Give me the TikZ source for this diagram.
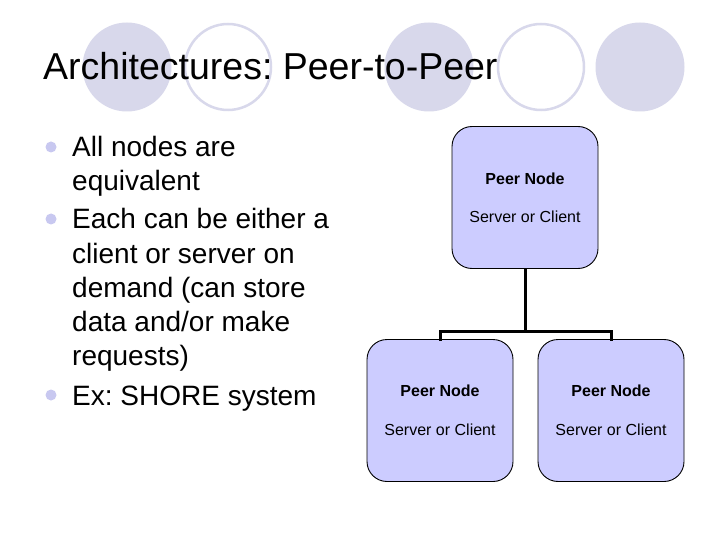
\documentclass[tikz,border=0pt]{standalone}
\usepackage{fontspec}
\setmainfont{Liberation Sans}
\frenchspacing
\definecolor{deco}{RGB}{216,216,235}
\definecolor{bul}{RGB}{200,200,240}
\definecolor{nodefill}{RGB}{204,204,255}
\begin{document}
\begin{tikzpicture}[x=1pt,y=-1pt,
  decoring/.style={draw=deco,line width=2.5pt,fill=white},
  bulletdot/.style={circle,fill=bul,inner sep=0pt,minimum size=11pt},
  line/.style={anchor=base west,inner sep=0pt,font=\fontsize{28}{34}\selectfont},
  peer/.style={draw=black,line width=0.9pt,fill=nodefill,rounded corners=20pt,
    minimum width=146pt,minimum height=142pt,inner sep=0pt},
  ptitle/.style={font=\bfseries\fontsize{16}{19}\selectfont,inner sep=0pt},
  psub/.style={font=\fontsize{16}{19}\selectfont,inner sep=0pt},
  conn/.style={line width=3pt}]
\useasboundingbox (0,0) rectangle (720,540);
\fill[white] (0,0) rectangle (720,540);
% decorative circles
\fill[deco] (127,67) circle (44.5);
\draw[decoring] (228,67) circle (43);
\fill[deco] (429,67) circle (44.5);
\draw[decoring] (541,67) circle (43);
\fill[deco] (640,67) circle (44.5);
% title
\node[anchor=base west,inner sep=0pt,font=\fontsize{37.5}{44}\selectfont] (title) at (43,80) {Architectures: Peer-to-Peer};
% bullets
\node[bulletdot] (b1) at (51,147) {};
\node[bulletdot] (b2) at (51,219) {};
\node[bulletdot] (b3) at (51,395) {};
\node[line] (l1) at (72,157) {All nodes are};
\node[line] (l2) at (72,191) {equivalent};
\node[line] (l3) at (72,229) {Each can be either a};
\node[line] (l4) at (72,263) {client or server on};
\node[line] (l5) at (72,297) {demand (can store};
\node[line] (l6) at (72,331) {data and/or make};
\node[line] (l7) at (72,365) {requests)};
\node[line] (l8) at (72,405) {Ex: SHORE system};
% peer nodes
\node[peer] (top) at (525,197.5) {};
\node[peer] (left) at (440,410.5) {};
\node[peer] (right) at (611,410.5) {};
\node[ptitle] (t1) at (525,179) {Peer Node};
\node[psub] (s1) at (525,217) {Server or Client};
\node[ptitle] (t2) at (440,391) {Peer Node};
\node[psub] (s2) at (440,430) {Server or Client};
\node[ptitle] (t3) at (611,391) {Peer Node};
\node[psub] (s3) at (611,430) {Server or Client};
% connectors
\coordinate (j) at (525,331);
\draw[conn] (top.south) -- (j);
\draw[conn,line cap=rect] (left.north) |- (j) -| (right.north);
\end{tikzpicture}
\end{document}
